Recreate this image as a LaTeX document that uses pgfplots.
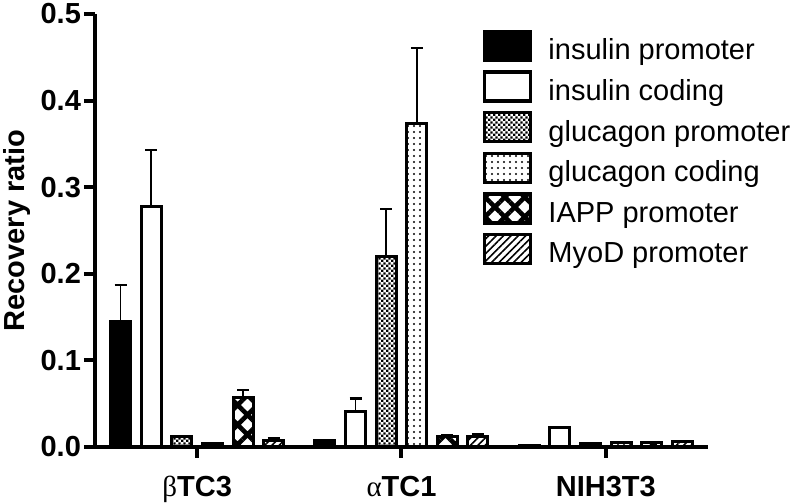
\documentclass[border=0pt]{standalone}
\usepackage{fontspec}
\setmainfont{Liberation Sans}
\newfontfamily\grk{Liberation Serif}
\usepackage{pgfplots}
\usepackage{pgfplotstable}
\pgfplotsset{compat=1.18}
\usetikzlibrary{patterns,patterns.meta}

% fine checkerboard for glucagon promoter
\tikzdeclarepattern{
  name=checker,
  type=uncolored,
  bottom left={(0pt,0pt)},
  top right={(2.6pt,2.6pt)},
  tile size={(2.6pt,2.6pt)},
  code={
    \fill (0pt,0pt) rectangle (1.4pt,1.4pt);
    \fill (1.3pt,1.3pt) rectangle (2.6pt,2.6pt);
  }
}

% x: 0 = betaTC3, 1 = alphaTC1, 2 = NIH3T3 ; e = upper error
\pgfplotstableread{
x y e
0 0.145 0.042
1 0.007 0.000
2 0.002 0.000
}\inspro
\pgfplotstableread{
x y e
0 0.278 0.065
1 0.041 0.015
2 0.022 0.000
}\inscod
\pgfplotstableread{
x y e
0 0.012 0.001
1 0.220 0.055
2 0.004 0.000
}\glupro
\pgfplotstableread{
x y e
0 0.004 0.000
1 0.373 0.088
2 0.005 0.000
}\glucod
\pgfplotstableread{
x y e
0 0.057 0.009
1 0.012 0.002
2 0.005 0.000
}\iapp
\pgfplotstableread{
x y e
0 0.008 0.002
1 0.012 0.003
2 0.006 0.000
}\myod

\begin{document}
\begin{tikzpicture}
\useasboundingbox (0,0) rectangle (400pt,252pt);
\begin{axis}[
  at={(47.5pt,28.5pt)}, anchor=south west,
  scale only axis, width=306.5pt, height=216.5pt,
  xmin=-0.5, xmax=2.5, ymin=0, ymax=0.5,
  ybar=5.3pt, bar width=10pt,
  axis x line=bottom, axis y line=left,
  axis line style={line width=2pt,-},
  tick align=outside, major tick length=5.5pt,
  every tick/.style={line width=2pt,black},
  xtick={0,1,2},
  xticklabels={{\grk\mdseries β}TC3,{\grk\mdseries α}TC1,NIH3T3},
  ytick={0,0.1,0.2,0.3,0.4,0.5},
  yticklabel style={xshift=2pt,/pgf/number format/.cd,fixed,fixed zerofill,precision=1,assume math mode=true},
  tick label style={font=\fontsize{14.5pt}{16pt}\selectfont\bfseries},
  xticklabel style={yshift=-5.5pt},
  ylabel={Recovery ratio},
  ylabel style={font=\fontsize{14.5pt}{17pt}\selectfont\bfseries, at={(axis description cs:-0.127,0.5)}, anchor=center},
  error bars/y dir=plus, error bars/y explicit,
  error bars/error bar style={line width=0.8pt,black},
  error bars/error mark options={rotate=90,mark size=3pt,line width=1.1pt,black},
  mylegend/.style={legend image code/.code={\draw[##1,line width=1.6pt] (0pt,-4.75pt) rectangle (23pt,9.75pt);}},
  legend style={at={(0.623,0.974)}, anchor=north west, draw=none, fill=none,
    font=\fontsize{14.5pt}{17pt}\selectfont, row sep=3.8pt, column sep=8pt,
    nodes={inner sep=0pt}},
  legend cell align=left,
]
\addplot[mylegend, draw=black, line width=1.5pt, fill=black] table[x=x,y=y,y error=e]{\inspro};
\addplot[mylegend, draw=black, line width=1.5pt, fill=white] table[x=x,y=y,y error=e]{\inscod};
\addplot[mylegend, draw=black, line width=1.5pt, pattern=checker, pattern color=black] table[x=x,y=y,y error=e]{\glupro};
\addplot[mylegend, draw=black, line width=1.5pt, pattern={Dots[distance=3pt,radius=0.55pt]}, pattern color=black] table[x=x,y=y,y error=e]{\glucod};
\addplot[mylegend, draw=black, line width=1.5pt, pattern={Hatch[angle=45,distance=7pt,line width=2.3pt]}, pattern color=black] table[x=x,y=y,y error=e]{\iapp};
\addplot[mylegend, draw=black, line width=1.5pt, pattern={Lines[angle=45,distance=2.6pt,line width=0.8pt]}, pattern color=black] table[x=x,y=y,y error=e]{\myod};
\legend{insulin promoter,insulin coding,glucagon promoter,glucagon coding,IAPP promoter,MyoD promoter}
\end{axis}
\end{tikzpicture}
\end{document}
